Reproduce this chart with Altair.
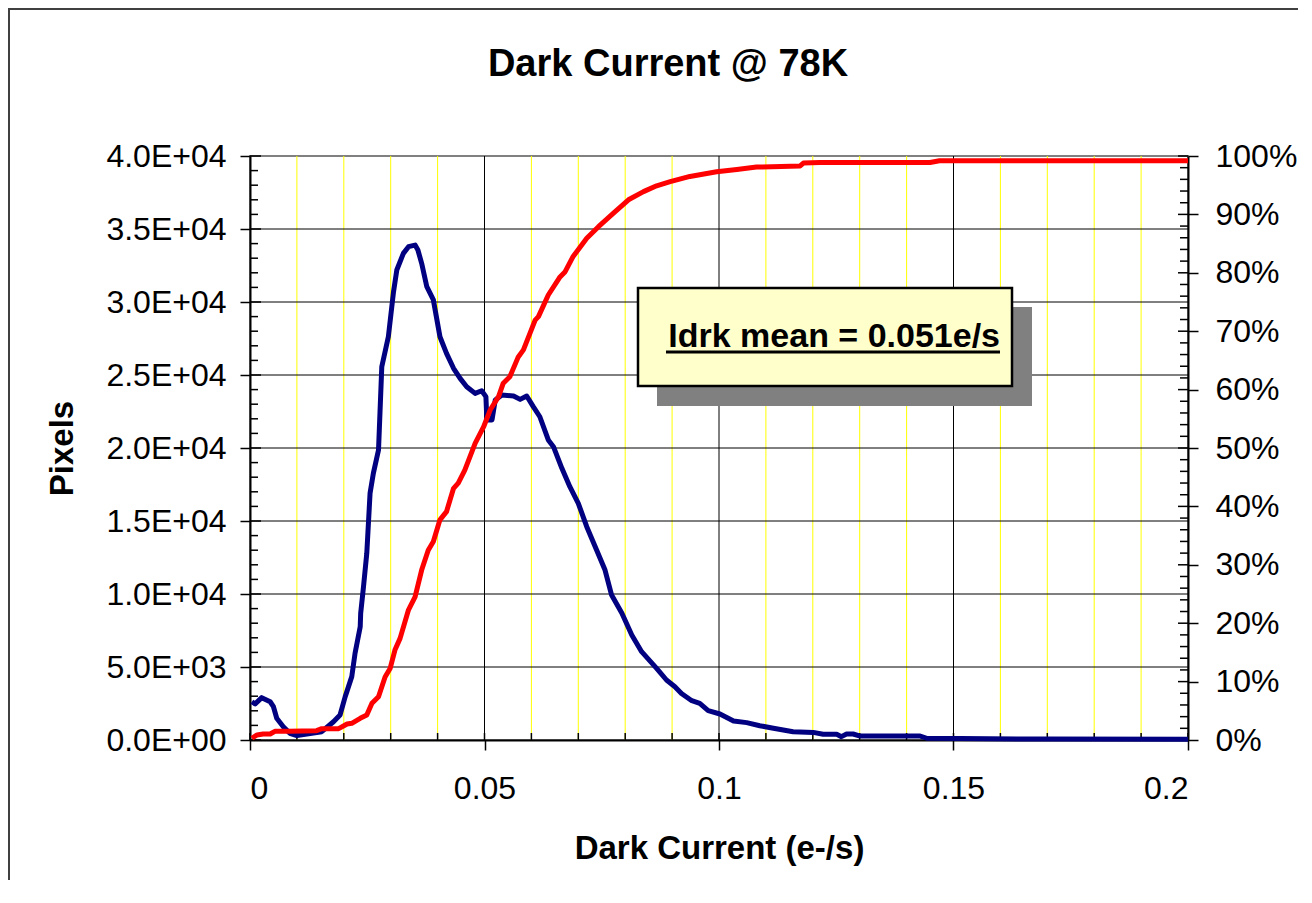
import altair as alt
import pandas as pd

# Histogram (Pixels)
blue_x = [0.0004, 0.0011, 0.0025, 0.0043, 0.0050, 0.0057, 0.0071, 0.0085, 0.0100, 0.0153,
          0.0178, 0.0192, 0.0203, 0.0217, 0.0224, 0.0235, 0.0236, 0.0242, 0.0249, 0.0256,
          0.0263, 0.0274, 0.0281, 0.0295, 0.0306, 0.0313, 0.0327, 0.0338, 0.0352, 0.0358,
          0.0366, 0.0377, 0.0391, 0.0405, 0.0419, 0.0434, 0.0448, 0.0462, 0.0480, 0.0494,
          0.0503, 0.0505, 0.0516, 0.0523, 0.0537, 0.0562, 0.0576, 0.0590, 0.0604, 0.0618,
          0.0636, 0.0647, 0.0665, 0.0682, 0.0700, 0.0718, 0.0739, 0.0757, 0.0771, 0.0793,
          0.0814, 0.0835, 0.0867, 0.0888, 0.0906, 0.0920, 0.0942, 0.0959, 0.0977, 0.1002,
          0.1031, 0.1059, 0.1087, 0.1116, 0.1158, 0.1201, 0.1222, 0.1251, 0.1261, 0.1272,
          0.1286, 0.1301, 0.1429, 0.1443, 0.1514, 0.1700, 0.2000]
blue_y = [2620, 2470, 2900, 2620, 2280, 1490, 910, 460, 300, 570,
          1250, 1710, 2970, 4340, 5940, 7760, 8680, 10500, 12790, 16900,
          18260, 19860, 25570, 27620, 30700, 32190, 33330, 33790, 33900, 33560,
          32650, 31050, 30140, 27620, 26480, 25460, 24770, 24200, 23740, 23920,
          23520, 21920, 21920, 23290, 23630, 23560, 23330, 23560, 22830, 22140,
          20550, 20090, 18610, 17350, 16210, 14610, 13010, 11640, 9930, 8680,
          7190, 6050, 4910, 4110, 3650, 3190, 2690, 2510, 2010, 1780,
          1300, 1190, 980, 800, 570, 520, 390, 390, 230, 410,
          410, 270, 270, 120, 100, 60, 50]

# Cumulative distribution (%)
red_x = [0.0004, 0.0015, 0.0028, 0.0043, 0.0053, 0.0082, 0.0142, 0.0153, 0.0189, 0.0207,
         0.0217, 0.0235, 0.0249, 0.0260, 0.0274, 0.0288, 0.0299, 0.0309, 0.0320, 0.0338,
         0.0352, 0.0366, 0.0380, 0.0391, 0.0405, 0.0419, 0.0434, 0.0444, 0.0458, 0.0480,
         0.0498, 0.0512, 0.0530, 0.0540, 0.0554, 0.0572, 0.0583, 0.0608, 0.0615, 0.0636,
         0.0661, 0.0672, 0.0689, 0.0718, 0.0743, 0.0775, 0.0807, 0.0839, 0.0867, 0.0896,
         0.0938, 0.0995, 0.1038, 0.1080, 0.1173, 0.1180, 0.1215, 0.1450, 0.1470, 0.2000]
red_y = [0.3, 0.86, 1.03, 1.03, 1.49, 1.49, 1.6, 1.94, 1.94, 2.74,
         2.86, 3.72, 4.28, 6.28, 7.42, 10.8, 12.3, 15.4, 17.4, 22.3,
         24.5, 29.1, 32.5, 34.0, 37.7, 39.1, 43.1, 44.0, 46.2, 50.8,
         53.6, 56.5, 58.8, 61.1, 62.2, 65.6, 66.8, 71.9, 72.5, 76.2,
         79.3, 80.2, 82.8, 85.9, 87.9, 90.2, 92.5, 93.9, 94.9, 95.6,
         96.5, 97.3, 97.7, 98.1, 98.3, 98.8, 98.9, 98.9, 99.2, 99.2]

x_ticks = [0, 0.05, 0.1, 0.15, 0.2]
x_major_grid = [0.05, 0.1, 0.15]
x_minor = [0.01, 0.02, 0.03, 0.04, 0.06, 0.07, 0.08, 0.09, 0.11, 0.12, 0.13, 0.14,
           0.16, 0.17, 0.18, 0.19]
left_ticks = [0, 5000, 10000, 15000, 20000, 25000, 30000, 35000, 40000]
left_grid = [5000, 10000, 15000, 20000, 25000, 30000, 35000]
left_minor = [v for v in range(1000, 40000, 1000) if v % 5000 != 0]
right_ticks = [0, 10, 20, 30, 40, 50, 60, 70, 80, 90, 100]
right_minor = [v for v in range(2, 100, 2) if v % 10 != 0]

title_text = "Dark Current @ 78K"
x_title = "Dark Current (e-/s)"
y_title = "Pixels"
note_text = "Idrk mean = 0.051e/s"

W, H = 938, 584
FONT = "Liberation Sans"

xs = alt.Scale(domain=[0, 0.2], nice=False, zero=False)
ls = alt.Scale(domain=[0, 40000], nice=False, zero=True)
rs = alt.Scale(domain=[0, 100], nice=False, zero=True)

xaxis = alt.Axis(values=x_ticks, labelExpr="format(datum.value, '~g')",
                 labelFont=FONT, labelFontSize=32, labelColor="black",
                 tickSize=10, tickColor="black", tickWidth=1.5,
                 labelPadding=23, domainColor="black", domainWidth=2, grid=False,
                 title=x_title, titleFont=FONT, titleFontSize=33, titleFontWeight="bold",
                 titleColor="black", titleX=469, titleY=108, titleBaseline="middle",
                 titleAlign="center")
X = alt.X("x:Q", scale=xs, axis=xaxis)

left_axis = alt.Axis(orient="left", values=left_ticks,
                     labelExpr="datum.value == 0 ? '0.0E+00' : format(datum.value / pow(10, floor(log(datum.value) / LN10 + 1e-9)), '.1f') + 'E+0' + floor(log(datum.value) / LN10 + 1e-9)",
                     labelFont=FONT, labelFontSize=32, labelColor="black",
                     tickSize=10, tickColor="black", tickWidth=1.5, labelPadding=14,
                     domainColor="black", domainWidth=2, grid=False,
                     title=y_title, titleFont=FONT, titleFontSize=33, titleFontWeight="bold",
                     titleColor="black", titleX=-188, titleY=292, titleAngle=-90,
                     titleBaseline="middle", titleAlign="center")
right_axis = alt.Axis(orient="right", values=right_ticks, labelExpr="datum.value + '%'",
                      labelFont=FONT, labelFontSize=32, labelColor="black",
                      tickSize=10, tickColor="black", tickWidth=1.5, labelPadding=17,
                      domainColor="black", domainWidth=2, grid=False)

one = pd.DataFrame({"a": [0]})

vminor = alt.Chart(pd.DataFrame({"x": x_minor})).mark_rule(color="#FFFF00", strokeWidth=1).encode(
    x=X, y=alt.value(0), y2=alt.value(H))
vmajor = alt.Chart(pd.DataFrame({"x": x_major_grid})).mark_rule(color="black", strokeWidth=1).encode(
    x=X, y=alt.value(0), y2=alt.value(H))
hgrid = alt.Chart(pd.DataFrame({"v": left_grid})).mark_rule(color="black", strokeWidth=1).encode(
    y=alt.Y("v:Q", scale=ls, axis=None), x=alt.value(0), x2=alt.value(W))

xt_in = alt.Chart(pd.DataFrame({"x": x_ticks + x_minor})).mark_rule(color="black", strokeWidth=1.5).encode(
    x=X, y=alt.value(H - 7), y2=alt.value(H))
lt_major = alt.Chart(pd.DataFrame({"v": left_ticks})).mark_rule(color="black", strokeWidth=1.5).encode(
    y=alt.Y("v:Q", scale=ls, axis=None), x=alt.value(0), x2=alt.value(11))
lt_minor = alt.Chart(pd.DataFrame({"v": left_minor})).mark_rule(color="black", strokeWidth=1.5).encode(
    y=alt.Y("v:Q", scale=ls, axis=None), x=alt.value(0), x2=alt.value(8))
rt_major = alt.Chart(pd.DataFrame({"v": right_ticks})).mark_rule(color="black", strokeWidth=1.5).encode(
    y=alt.Y("v:Q", scale=rs, axis=None), x=alt.value(W - 10), x2=alt.value(W))
rt_minor = alt.Chart(pd.DataFrame({"v": right_minor})).mark_rule(color="black", strokeWidth=1.5).encode(
    y=alt.Y("v:Q", scale=rs, axis=None), x=alt.value(W - 8), x2=alt.value(W))

blue = alt.Chart(pd.DataFrame({"x": blue_x, "count": blue_y})).mark_line(
    color="#000080", strokeWidth=5, strokeJoin="round").encode(
    x=X, y=alt.Y("count:Q", scale=ls, axis=left_axis))
red = alt.Chart(pd.DataFrame({"x": red_x, "pct": red_y})).mark_line(
    color="#FF0000", strokeWidth=5, strokeJoin="round").encode(
    x=X, y=alt.Y("pct:Q", scale=rs, axis=right_axis, title=None))

shadow = alt.Chart(one).mark_rect(color="#808080").encode(
    x=alt.value(407), x2=alt.value(782), y=alt.value(151), y2=alt.value(250))
box = alt.Chart(one).mark_rect(fill="#FFFFCC", stroke="black", strokeWidth=2.5).encode(
    x=alt.value(388), x2=alt.value(762), y=alt.value(132), y2=alt.value(230))
note = alt.Chart(one).mark_text(text=note_text, font=FONT, fontSize=34, fontWeight="bold",
                                align="right", baseline="alphabetic", color="black").encode(
    x=alt.value(750), y=alt.value(191))
underline = alt.Chart(one).mark_rule(color="black", strokeWidth=3).encode(
    x=alt.value(416), x2=alt.value(750), y=alt.value(196))
title = alt.Chart(one).mark_text(text=title_text, font=FONT, fontSize=38, fontWeight="bold",
                                 align="center", baseline="alphabetic", color="black").encode(
    x=alt.value(418), y=alt.value(-80))
frame_left = alt.Chart(one).mark_rule(color="#404040", strokeWidth=2).encode(
    x=alt.value(-241), x2=alt.value(-241), y=alt.value(-148), y2=alt.value(H + 140))
frame_top = alt.Chart(one).mark_rule(color="#404040", strokeWidth=2).encode(
    x=alt.value(-242), x2=alt.value(W + 110), y=alt.value(-147), y2=alt.value(-147))

chart = alt.layer(
    vminor, vmajor, hgrid, xt_in, lt_major, lt_minor, rt_major, rt_minor,
    blue, red, shadow, box, note, underline, title, frame_left, frame_top
).resolve_scale(y="independent").properties(
    width=W, height=H,
    padding={"left": 242, "top": 148, "right": 110, "bottom": 158},
    autosize=alt.AutoSizeParams(type="none"),
    background="white",
).configure_view(stroke="#808080", strokeWidth=2)

chart.save("out.html", embed_options={"renderer": "svg", "actions": False})
